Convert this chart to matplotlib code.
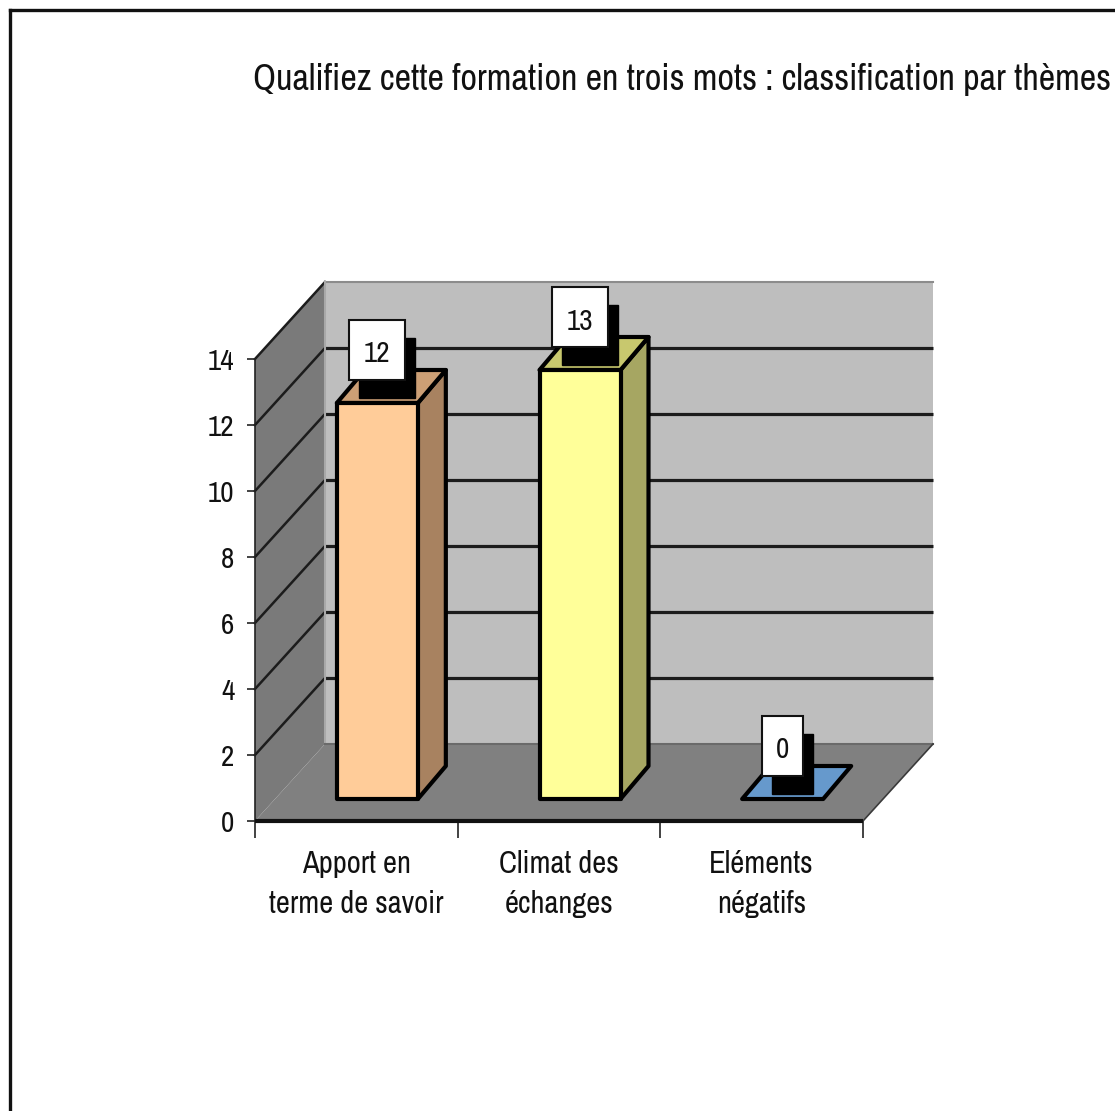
import matplotlib
matplotlib.use('Agg')
import matplotlib.pyplot as plt
from matplotlib.lines import Line2D
from matplotlib.patches import Polygon, Rectangle

# --- Data ---
categories = ['Apport en\nterme de savoir', 'Climat des\néchanges', 'Eléments\nnégatifs']
values = [12, 13, 0]
y_ticks = [0, 2, 4, 6, 8, 10, 12, 14]
title = 'Qualifiez cette formation en trois mots : classification par thèmes'

front_colors = ['#FFCC99', '#FFFF99', '#6699CC']
top_colors = ['#CC9F75', '#C8C86E', '#6699CC']
side_colors = ['#A88260', '#A6A662', '#4F779F']

plt.rcParams['font.family'] = ['Archivo Narrow', 'Liberation Sans', 'DejaVu Sans']

W, H = 1115, 1111
fig = plt.figure(figsize=(W / 100, H / 100), dpi=100, facecolor='white')

# axes placed so that the front plane runs from x=255..863 and y=820..358 px
ax = fig.add_axes([255 / W, (H - 821) / H, 608 / W, 462 / H])
ax.set_xlim(0, 3)
ax.set_ylim(0, 14)
ax.patch.set_visible(False)

PX = 3 / 608      # one pixel in x data units
PY = 14 / 462     # one pixel in y data units
DX, DY = 70 * PX, 77 * PY   # depth of the chart box
BX, BY = 28 * PX, 33 * PY   # depth of a bar
BAR_W = 81 * PX
SHIFT_X, SHIFT_Y = 21 * PX, 22 * PY   # bars sit inside the box


def poly(points, color, z, edge='none', lw=0):
    ax.add_patch(Polygon(points, closed=True, facecolor=color, edgecolor=edge, linewidth=lw,
                         joinstyle='round', clip_on=False, zorder=z))


# --- Walls and floor ---
poly([(DX, DY), (3 + DX, DY), (3 + DX, 14 + DY), (DX, 14 + DY)], '#BEBEBE', 1)
poly([(0, 0), (DX, DY), (DX, 14 + DY), (0, 14)], '#7A7A7A', 1)
poly([(0, 0), (3, 0), (3 + DX, DY), (DX, DY)], '#808080', 1)

for t in y_ticks[1:]:
    if t < 14:
        ax.plot([DX, 3 + DX], [t + DY, t + DY], color='#1c1c1c', lw=2.3, clip_on=False, zorder=2,
                solid_capstyle='butt')
    ax.plot([0, DX], [t, t + DY], color='#1c1c1c', lw=1.8, clip_on=False, zorder=2)
ax.plot([DX, 3 + DX], [14 + DY, 14 + DY], color='#8c8c8c', lw=1.5, clip_on=False, zorder=2)
ax.plot([DX, DX], [DY, 14 + DY], color='#a8a8a8', lw=1.5, clip_on=False, zorder=2)
ax.plot([DX, 3 + DX], [DY, DY], color='#6a6a6a', lw=1.5, clip_on=False, zorder=2)
ax.plot([3, 3 + DX], [0, DY], color='#3a3a3a', lw=1.2, clip_on=False, zorder=2)
ax.plot([0, 3], [0, 0], color='#111111', lw=3.0, clip_on=False, zorder=3, solid_capstyle='butt')

# --- Bars ---
for i, v in enumerate(values):
    left = i + 0.5 + SHIFT_X - BAR_W / 2
    right = left + BAR_W
    base = SHIFT_Y
    top = base + v
    if v > 0:
        poly([(right, base), (right + BX, base + BY), (right + BX, top + BY), (right, top)],
             side_colors[i], 4, 'black', 3.0)
        poly([(left, base), (right, base), (right, top), (left, top)],
             front_colors[i], 5, 'black', 3.0)
    poly([(left, top), (right, top), (right + BX, top + BY), (left + BX, top + BY)],
         top_colors[i], 4, 'black', 3.0)

    # value label with its hard shadow
    box_w = (41 if v == 0 else 56) * PX
    box_h = 60 * PY
    cx = (left + right) / 2
    cy = top + 53 * PY
    ax.add_patch(Rectangle((cx - box_w / 2 + 10 * PX, cy - box_h / 2 - 18 * PY), box_w, box_h,
                           facecolor='black', edgecolor='black', lw=1, clip_on=False, zorder=6))
    ax.add_patch(Rectangle((cx - box_w / 2, cy - box_h / 2), box_w, box_h,
                           facecolor='white', edgecolor='#111111', lw=1.5, clip_on=False, zorder=7))
    ax.text(cx, cy - 4 * PY, str(v), ha='center', va='center', fontsize=21, color='#111111', zorder=8)

# --- Axes, ticks and labels ---
for name in ['top', 'right', 'bottom']:
    ax.spines[name].set_visible(False)
ax.spines['left'].set_color('#222222')
ax.spines['left'].set_linewidth(1.2)
ax.set_yticks(y_ticks)
ax.tick_params(axis='y', length=6, width=1.2, pad=9, labelsize=21, color='#222222', labelcolor='#111111')
ax.set_xticks([0, 1, 2, 3])
ax.set_xticklabels([])
ax.set_xticks([0.5, 1.5, 2.5], labels=categories, minor=True)
ax.tick_params(axis='x', which='major', length=12, width=1.2, color='#222222')
ax.tick_params(axis='x', which='minor', length=0, pad=21, labelsize=22, labelcolor='#111111')
for lab in ax.get_xticklabels(minor=True):
    lab.set_linespacing(1.52)

fig.text(682 / W, 1 - 80 / H, title, ha='center', va='center', fontsize=26, color='#111111')

# --- Outer frame, cut off on the right and at the bottom ---
fig.add_artist(Line2D([9.5 / W, 9.5 / W], [0, 1 - 9.5 / H], color='#111111', lw=2.4))
fig.add_artist(Line2D([9.5 / W, 1], [1 - 9.5 / H, 1 - 9.5 / H], color='#111111', lw=2.4))

fig.savefig('out.png', dpi=100, facecolor='white')
